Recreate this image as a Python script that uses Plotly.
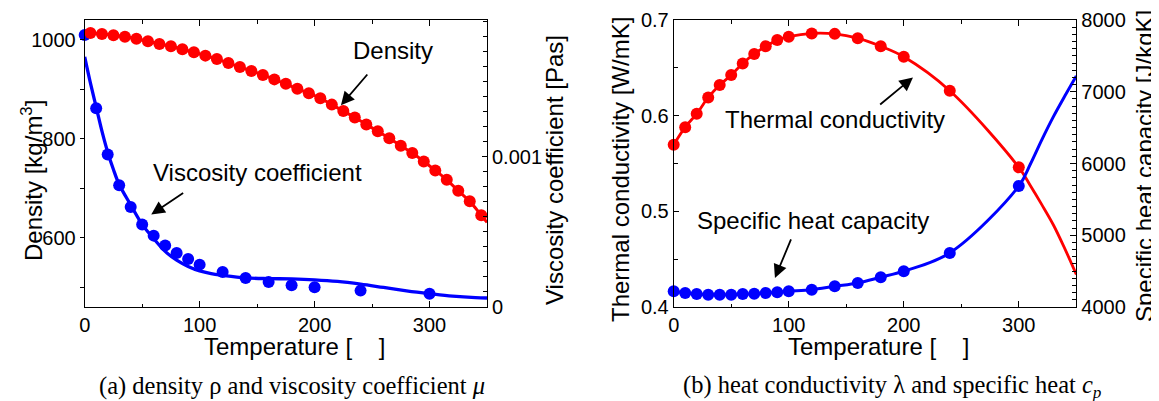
import plotly.graph_objects as go

# ---------------- (a) density and viscosity ----------------
density_T = [5, 15, 25, 35, 45, 55, 65, 75, 85, 95, 105, 115, 125, 135, 145, 155, 165, 175,
             185, 195, 205, 215, 225, 235, 245, 255, 265, 275, 285, 295, 305, 315, 325, 335, 345]
density = [1013.5, 1011.5, 1009, 1006, 1002, 997, 991.5, 987, 981, 975, 968, 961, 953, 945,
           937, 929, 920, 911, 901, 892, 882, 869, 856, 843, 829, 815, 801, 786, 771, 754,
           736, 717, 695, 673.5, 645.5]
density_curve_T = [0] + density_T + [350]
density_curve = [1014.5] + density + [631]

visc_T = [0, 10, 20, 30, 40, 50, 60, 70, 80, 90, 100, 120, 140, 160, 180, 200, 240, 300]
visc = [1.81e-3, 1.322e-3, 1.015e-3, 0.81e-3, 0.665e-3, 0.549e-3, 0.475e-3, 0.409e-3,
        0.36e-3, 0.32e-3, 0.282e-3, 0.233e-3, 0.193e-3, 0.167e-3, 0.145e-3, 0.131e-3,
        0.109e-3, 0.0887e-3]
visc_fit_T = [0, 5, 10, 15, 20, 25, 30, 40, 50, 60, 70, 80, 90, 100, 110, 120, 140, 160,
              180, 200, 220, 240, 260, 280, 300, 320, 340, 350]
visc_fit = [1.665e-3, 1.49e-3, 1.33e-3, 1.17e-3, 1.03e-3, 0.915e-3, 0.815e-3, 0.68e-3,
            0.55e-3, 0.455e-3, 0.37e-3, 0.312e-3, 0.27e-3, 0.24e-3, 0.222e-3, 0.211e-3,
            0.194e-3, 0.189e-3, 0.187e-3, 0.181e-3, 0.17e-3, 0.152e-3, 0.13e-3, 0.108e-3,
            0.089e-3, 0.072e-3, 0.062e-3, 0.06e-3]

# ---------------- (b) conductivity and heat capacity ----------------
prop_T = [0, 10, 20, 30, 40, 50, 60, 70, 80, 90, 100, 120, 140, 160, 180, 200, 240, 300]
conductivity = [0.5695, 0.588, 0.602, 0.619, 0.632, 0.6425, 0.6545, 0.6645, 0.6725, 0.679,
                0.6825, 0.686, 0.6855, 0.681, 0.6725, 0.6615, 0.626, 0.546]
heat_capacity = [4219, 4196, 4182, 4172, 4172, 4172, 4180, 4186, 4196, 4205, 4219, 4242,
                 4289, 4335, 4415, 4499, 4754, 5686]
ext_T = [310, 320, 330, 340, 350]
conductivity_ext = [0.527, 0.507, 0.486, 0.461, 0.434]
heat_capacity_ext = [5990, 6330, 6650, 6940, 7220]

x_ticks = [0, 100, 200, 300]

W, H = 1159, 401
RED = "#ff0000"
BLUE = "#0000ff"
SANS = "Liberation Sans, Arial, sans-serif"
SERIF = "Liberation Serif, Times New Roman, serif"
MS = 12


def px(x):
    return x / W


def py(y):
    return 1 - y / H


XL = [px(76.7), px(479)]
XR = [px(665.7), px(1068.3)]
YD = [py(299), py(12)]

fig = go.Figure()

# panel (a)
fig.add_trace(go.Scatter(x=visc_fit_T, y=visc_fit, mode="lines", xaxis="x", yaxis="y",
                         line=dict(color=BLUE, width=3.3, shape="spline"), hoverinfo="skip"))
fig.add_trace(go.Scatter(x=visc_T, y=visc, mode="markers", xaxis="x", yaxis="y",
                         marker=dict(color=BLUE, size=MS), cliponaxis=False))
fig.add_trace(go.Scatter(x=density_curve_T, y=density_curve, mode="lines", xaxis="x", yaxis="y2",
                         line=dict(color=RED, width=3, shape="spline"), hoverinfo="skip"))
fig.add_trace(go.Scatter(x=density_T, y=density, mode="markers", xaxis="x", yaxis="y2",
                         marker=dict(color=RED, size=MS), cliponaxis=False))

# panel (b)
fig.add_trace(go.Scatter(x=prop_T + ext_T, y=conductivity + conductivity_ext, mode="lines",
                         xaxis="x2", yaxis="y3",
                         line=dict(color=RED, width=2.8, shape="spline"), hoverinfo="skip"))
fig.add_trace(go.Scatter(x=prop_T, y=conductivity, mode="markers", xaxis="x2", yaxis="y3",
                         marker=dict(color=RED, size=MS), cliponaxis=False))
fig.add_trace(go.Scatter(x=prop_T + ext_T, y=heat_capacity + heat_capacity_ext, mode="lines",
                         xaxis="x2", yaxis="y4",
                         line=dict(color=BLUE, width=3, shape="spline"), hoverinfo="skip"))
fig.add_trace(go.Scatter(x=prop_T, y=heat_capacity, mode="markers", xaxis="x2", yaxis="y4",
                         marker=dict(color=BLUE, size=MS), cliponaxis=False))

tickfont = dict(family=SANS, size=20, color="black")
common = dict(showline=True, linecolor="black", linewidth=1, showgrid=False, zeroline=False,
              tickfont=tickfont, tickcolor="black", automargin=False, fixedrange=True)


def xaxis(domain, anchor):
    return dict(domain=domain, anchor=anchor, range=[0, 350], tickmode="array", tickvals=x_ticks,
                ticks="inside", ticklen=6, mirror="ticks",
                minor=dict(tickmode="linear", tick0=0, dtick=50, ticks="inside", ticklen=3.5,
                           tickcolor="black"),
                **common)


fig.update_layout(
    width=W, height=H,
    margin=dict(l=0, r=0, t=0, b=0),
    paper_bgcolor="white", plot_bgcolor="white",
    showlegend=False,
    xaxis=xaxis(XL, "y"),
    xaxis2=xaxis(XR, "y3"),
    yaxis=dict(domain=YD, anchor="x", side="right", range=[0, 0.00191],
               tickmode="array", tickvals=[0, 0.001], ticktext=["0", "0.001"],
               ticks="inside", ticklen=5,
               minor=dict(tickmode="linear", tick0=0, dtick=0.0001, ticks="inside", ticklen=4,
                          tickcolor="black"),
               **common),
    yaxis2=dict(overlaying="y", anchor="x", side="left", range=[460, 1040],
                tickmode="linear", tick0=0, dtick=200, ticks="outside", ticklen=4,
                minor=dict(tickmode="linear", tick0=0, dtick=100, ticks="outside", ticklen=4,
                           tickcolor="black"),
                **common),
    yaxis3=dict(domain=YD, anchor="x2", side="left", range=[0.4, 0.7],
                tickmode="linear", tick0=0.4, dtick=0.1, tickformat=".1f",
                ticks="inside", ticklen=5,
                minor=dict(tickmode="linear", tick0=0.4, dtick=0.05, ticks="inside", ticklen=4,
                           tickcolor="black"),
                **common),
    yaxis4=dict(overlaying="y3", anchor="x2", side="right", range=[4000, 8000],
                tickmode="linear", tick0=4000, dtick=1000, ticks="inside", ticklen=6,
                minor=dict(tickmode="linear", tick0=4000, dtick=100, ticks="inside", ticklen=4,
                           tickcolor="black"),
                **common),
)

annfont = dict(family=SANS, size=24, color="black")


def text(xp, yp, s, angle=0, font=annfont):
    fig.add_annotation(x=px(xp), y=py(yp), xref="paper", yref="paper", text=s, showarrow=False,
                       textangle=angle, xanchor="center", yanchor="middle", font=font,
                       borderpad=0)


# axis titles
text(24, 173, "Density [kg/m<sup>3</sup>]", -90)
text(547, 162, "Viscosity coefficient [Pas]", -90)
text(613, 162, "Thermal conductivity [W/mK]", -90)
text(1136, 158, "Specific heat capacity [J/kgK]", -90)
gap = "\u00a0" * 4
text(286, 338, "Temperature [" + gap + "]")
text(870, 338, "Temperature [" + gap + "]")

# curve labels
text(384.5, 43, "Density")
text(249, 164, "Viscosity coefficient")
text(826.5, 112, "Thermal conductivity")
text(805, 212, "Specific heat capacity")

# arrows


def arrow(x, y, xref, yref, ax, ay):
    fig.add_annotation(x=x, y=y, xref=xref, yref=yref, ax=ax, ay=ay, text="", showarrow=True,
                       arrowhead=2, arrowsize=1.5, arrowwidth=1.8, arrowcolor="black",
                       standoff=0, startstandoff=0)


arrow(222.9, 867.6, "x", "y2", 27.7, -32.3)
arrow(57.9, 0.000615, "x", "y", 33.4, -22.7)
arrow(208, 0.64, "x2", "y3", -34.3, 28.3)
arrow(88, 4405, "x2", "y4", 16.7, -40)

# captions
capfont = dict(family=SERIF, size=24.5, color="black")
text(284, 378, "(a) density \u03c1 and viscosity coefficient <i>\u03bc</i>", font=capfont)
text(884, 378, "(b) heat conductivity \u03bb and specific heat <i>c</i><sub><i>p</i></sub>",
     font=capfont)

fig.write_html("out.html")
